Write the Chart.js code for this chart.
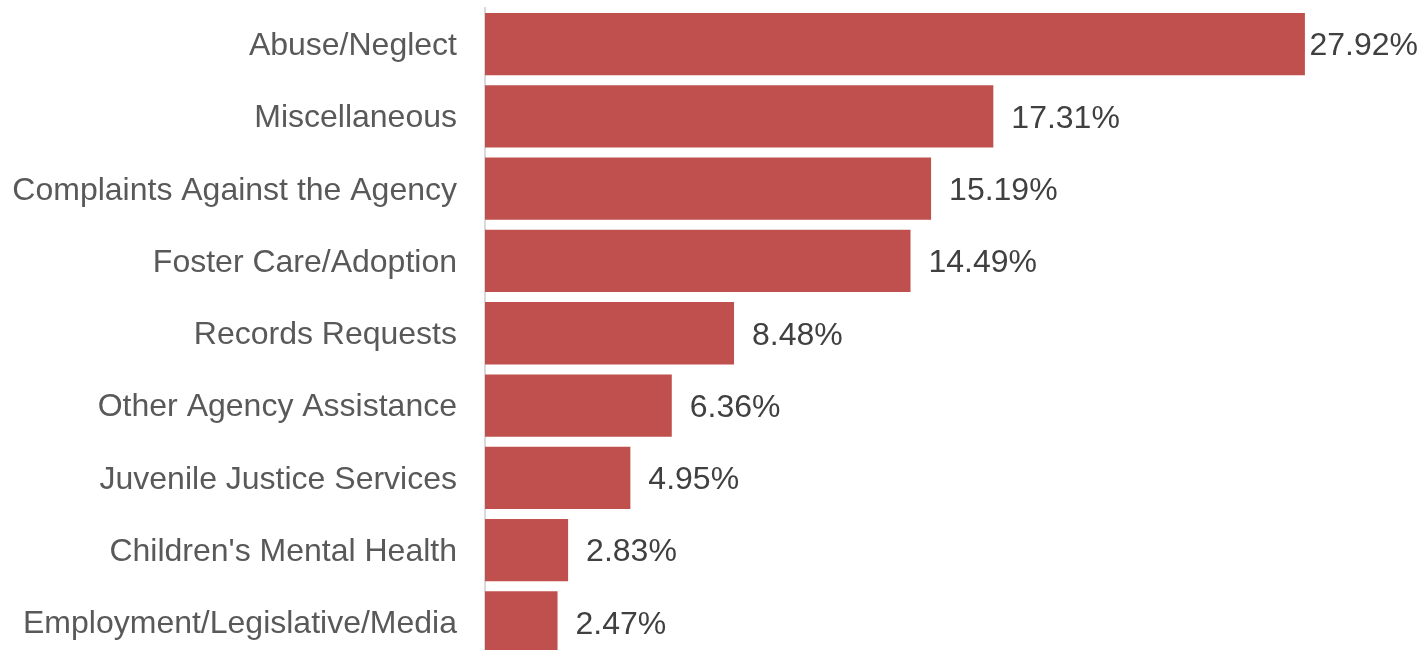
<!DOCTYPE html>
<html>
<head>
<meta charset="utf-8">
<script src="https://cdn.jsdelivr.net/npm/chart.js@4/dist/chart.umd.min.js"></script>
<style>
html,body{margin:0;padding:0;overflow:hidden;background:#fff;}
#wrap{position:relative;width:1420px;height:660px;}
</style>
</head>
<body>
<div id="wrap"><canvas id="c"></canvas></div>
<script>
const categories = ["Abuse/Neglect","Miscellaneous","Complaints Against the Agency","Foster Care/Adoption","Records Requests","Other Agency Assistance","Juvenile Justice Services","Children's Mental Health","Employment/Legislative/Media"];
const values = [27.92,17.31,15.19,14.49,8.48,6.36,4.95,2.83,2.47];
const valueLabels = ["27.92%","17.31%","15.19%","14.49%","8.48%","6.36%","4.95%","2.83%","2.47%"];

const FONT = "'Liberation Sans', Arial, sans-serif";

const labelPlugin = {
  id: 'valueLabels',
  afterDatasetsDraw(chart) {
    const ctx = chart.ctx;
    const meta = chart.getDatasetMeta(0);
    ctx.save();
    ctx.font = "32px " + FONT;
    ctx.fillStyle = "#404040";
    ctx.textBaseline = "middle";
    ctx.textAlign = "left";
    meta.data.forEach((bar, i) => {
      const t = valueLabels[i];
      const w = ctx.measureText(t).width;
      let x = bar.x + 18;
      if (x + w > chart.width - 2) x = chart.width - 2 - w;
      ctx.fillText(t, x, bar.y + 2.5);
    });
    ctx.restore();
  }
};

new Chart(document.getElementById('c'), {
  type: 'bar',
  data: {
    labels: categories,
    datasets: [{
      data: values,
      backgroundColor: '#C0504D',
      borderWidth: 0,
      categoryPercentage: 1,
      barPercentage: 0.862
    }]
  },
  options: {
    indexAxis: 'y',
    responsive: true,
    maintainAspectRatio: false,
    animation: false,
    layout: { padding: { top: 8, bottom: 1.5, left: 0, right: 54 } },
    plugins: { legend: { display: false }, tooltip: { enabled: false } },
    scales: {
      x: { display: false, min: 0, max: 30 },
      y: {
        afterFit(scale) { scale.width = 485; scale.paddingTop = 0; scale.paddingBottom = 0; },
        grid: { display: false, drawTicks: false },
        border: { display: true, color: '#d9d9d9', width: 2 },
        ticks: { color: '#595959', font: { size: 32, family: FONT }, padding: 28, labelOffset: 2 }
      }
    }
  },
  plugins: [labelPlugin]
});
</script>
</body>
</html>
